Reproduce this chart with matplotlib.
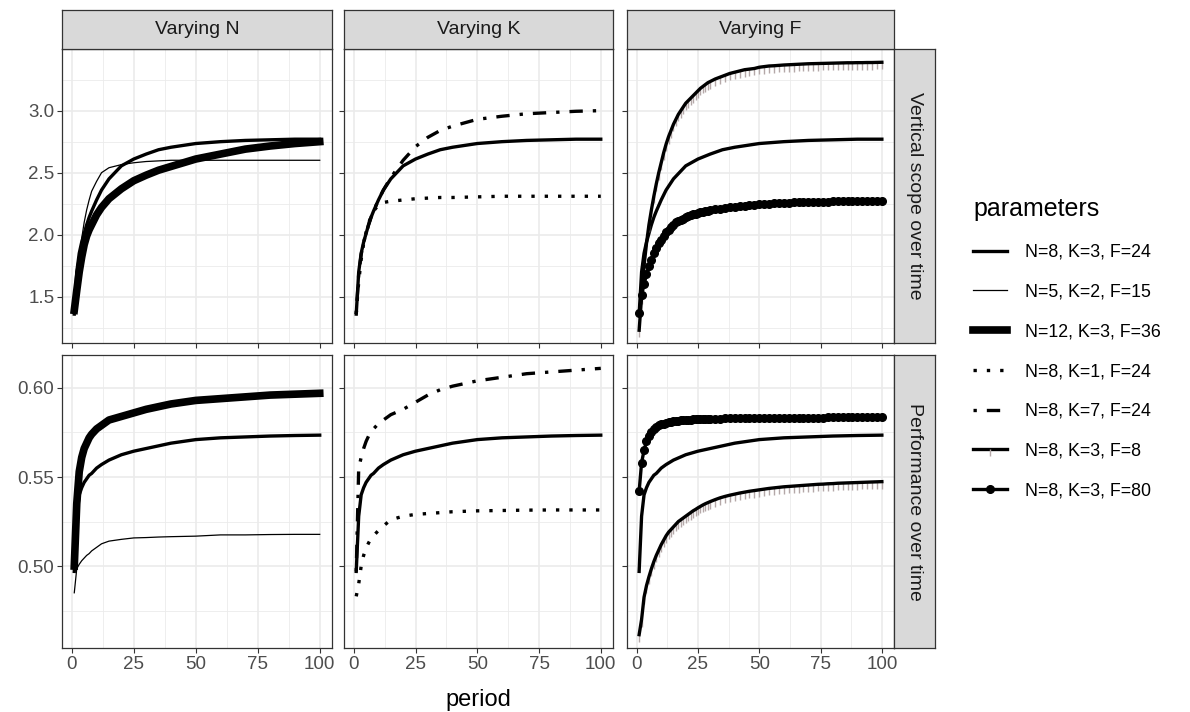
import matplotlib.pyplot as plt
from matplotlib.lines import Line2D

plt.rcParams['font.family'] = ['Liberation Sans', 'DejaVu Sans']

# ---- data ----
periods = [1, 2, 3, 4, 5, 6, 7, 8, 10, 12, 15, 20, 25, 30, 35, 40, 50, 60, 70, 80, 90, 100]
periods_fine = list(range(1, 31)) + list(range(32, 101, 2))

scope_base = [1.36, 1.70, 1.85, 1.94, 2.01, 2.08, 2.14, 2.19, 2.28, 2.36, 2.45, 2.555, 2.61, 2.65,
              2.685, 2.705, 2.735, 2.75, 2.76, 2.765, 2.77, 2.77]
scope_n5 = [1.40, 1.60, 1.80, 1.97, 2.10, 2.20, 2.28, 2.35, 2.43, 2.50, 2.54, 2.565, 2.58, 2.59,
            2.595, 2.60, 2.60, 2.60, 2.60, 2.60, 2.60, 2.60]
scope_n12 = [1.39, 1.55, 1.70, 1.82, 1.92, 1.99, 2.04, 2.08, 2.16, 2.22, 2.29, 2.37, 2.435, 2.48,
             2.52, 2.55, 2.61, 2.65, 2.69, 2.715, 2.735, 2.75]
scope_k1 = [1.36, 1.62, 1.80, 1.93, 2.02, 2.09, 2.15, 2.19, 2.24, 2.26, 2.27, 2.28, 2.29, 2.295,
            2.30, 2.30, 2.305, 2.31, 2.31, 2.31, 2.31, 2.31]
scope_k7 = [1.36, 1.68, 1.84, 1.94, 2.01, 2.08, 2.14, 2.19, 2.28, 2.36, 2.46, 2.60, 2.71, 2.785,
            2.84, 2.875, 2.93, 2.955, 2.975, 2.985, 2.995, 3.0]
scope_f8 = [1.23, 1.50, 1.75, 1.93, 2.08, 2.20, 2.31, 2.41, 2.50, 2.58,
            2.66, 2.73, 2.79, 2.84, 2.89, 2.93, 2.97, 3.00, 3.03, 3.06,
            3.08, 3.10, 3.12, 3.14, 3.16, 3.18, 3.195, 3.21, 3.225, 3.235,
            3.255, 3.27, 3.285, 3.30, 3.31, 3.32, 3.33, 3.335, 3.34, 3.35,
            3.355, 3.36, 3.362, 3.365, 3.368, 3.37, 3.372, 3.374, 3.376, 3.378,
            3.379, 3.38, 3.381, 3.382, 3.383, 3.384, 3.385, 3.386, 3.386, 3.387,
            3.387, 3.388, 3.388, 3.389, 3.39]
scope_f80 = [1.365, 1.51, 1.60, 1.68, 1.75, 1.80, 1.85, 1.89, 1.93, 1.96,
             1.99, 2.02, 2.04, 2.06, 2.08, 2.10, 2.11, 2.12, 2.13, 2.14,
             2.15, 2.16, 2.165, 2.17, 2.175, 2.18, 2.185, 2.19, 2.195, 2.20,
             2.205, 2.21, 2.215, 2.22, 2.225, 2.23, 2.235, 2.24, 2.243, 2.246,
             2.248, 2.25, 2.252, 2.254, 2.256, 2.258, 2.26, 2.261, 2.262, 2.263,
             2.264, 2.265, 2.266, 2.267, 2.268, 2.269, 2.27, 2.27, 2.271, 2.272,
             2.272, 2.273, 2.273, 2.274, 2.275]

perf_base = [0.497, 0.528, 0.540, 0.544, 0.547, 0.549, 0.551, 0.552, 0.555, 0.557, 0.5595, 0.5625,
             0.5645, 0.566, 0.5675, 0.569, 0.571, 0.572, 0.5725, 0.573, 0.5733, 0.5735]
perf_n5 = [0.485, 0.4985, 0.501, 0.503, 0.5045, 0.506, 0.507, 0.5085, 0.5105, 0.5125, 0.514, 0.515,
           0.5158, 0.516, 0.5163, 0.5165, 0.5168, 0.5175, 0.5175, 0.5177, 0.5178, 0.5178]
perf_n12 = [0.500, 0.535, 0.553, 0.561, 0.566, 0.569, 0.572, 0.574, 0.577, 0.579, 0.582, 0.584,
            0.586, 0.588, 0.5895, 0.591, 0.593, 0.594, 0.595, 0.596, 0.5965, 0.597]
perf_k1 = [0.483, 0.490, 0.500, 0.506, 0.510, 0.513, 0.5155, 0.517, 0.520, 0.5225, 0.526, 0.528,
           0.529, 0.5295, 0.530, 0.5305, 0.531, 0.5312, 0.5314, 0.5315, 0.5315, 0.5315]
perf_k7 = [0.497, 0.555, 0.561, 0.566, 0.570, 0.573, 0.575, 0.577, 0.580, 0.582, 0.585, 0.588,
           0.592, 0.596, 0.599, 0.601, 0.604, 0.606, 0.608, 0.609, 0.610, 0.611]
perf_f8 = [0.4615, 0.470, 0.4825, 0.489, 0.494, 0.4985, 0.5025, 0.506, 0.509, 0.512,
           0.5145, 0.517, 0.519, 0.5205, 0.522, 0.5235, 0.525, 0.526, 0.527, 0.528,
           0.529, 0.530, 0.531, 0.5318, 0.5327, 0.5335, 0.5343, 0.535, 0.5356, 0.5362,
           0.5373, 0.5383, 0.5391, 0.5398, 0.5404, 0.541, 0.5415, 0.542, 0.5424, 0.5428,
           0.5432, 0.5436, 0.5439, 0.5442, 0.5445, 0.5447, 0.5449, 0.5451, 0.5453, 0.5455,
           0.5457, 0.5459, 0.546, 0.5462, 0.5463, 0.5465, 0.5466, 0.5467, 0.5468, 0.5469,
           0.547, 0.5471, 0.5472, 0.5473, 0.5474]
perf_f80 = [0.542, 0.558, 0.565, 0.570, 0.573, 0.5755, 0.577, 0.578, 0.579, 0.5795,
            0.580, 0.5803, 0.5807, 0.581, 0.5813, 0.5815, 0.5817, 0.5818, 0.5819, 0.582,
            0.5821, 0.5822, 0.5823, 0.5824, 0.5825, 0.5825, 0.5826, 0.5826, 0.5827, 0.5827,
            0.5828, 0.5828, 0.5829, 0.5829, 0.583, 0.583, 0.583, 0.5831, 0.5831, 0.5831,
            0.5832, 0.5832, 0.5832, 0.5833, 0.5833, 0.5833, 0.5833, 0.5834, 0.5834, 0.5834,
            0.5834, 0.5834, 0.5834, 0.5835, 0.5835, 0.5835, 0.5835, 0.5835, 0.5835, 0.5835,
            0.5835, 0.5835, 0.5835, 0.5835, 0.5835]

labels = ['N=8, K=3, F=24', 'N=5, K=2, F=15', 'N=12, K=3, F=36', 'N=8, K=1, F=24',
          'N=8, K=7, F=24', 'N=8, K=3, F=8', 'N=8, K=3, F=80']
col_titles = ['Varying N', 'Varying K', 'Varying F']
row_titles = ['Vertical scope over time', 'Performance over time']

series = {
    0: {labels[0]: (periods, scope_base), labels[1]: (periods, scope_n5), labels[2]: (periods, scope_n12),
        labels[3]: (periods, scope_k1), labels[4]: (periods, scope_k7),
        labels[5]: (periods_fine, scope_f8), labels[6]: (periods_fine, scope_f80)},
    1: {labels[0]: (periods, perf_base), labels[1]: (periods, perf_n5), labels[2]: (periods, perf_n12),
        labels[3]: (periods, perf_k1), labels[4]: (periods, perf_k7),
        labels[5]: (periods_fine, perf_f8), labels[6]: (periods_fine, perf_f80)},
}
panel_series = [[labels[0], labels[1], labels[2]],
                [labels[0], labels[3], labels[4]],
                [labels[0], labels[5], labels[6]]]

# ---- styles ----
styles = {
    labels[0]: dict(color='black', lw=2.4),
    labels[1]: dict(color='black', lw=0.9),
    labels[2]: dict(color='black', lw=5.5),
    labels[3]: dict(color='black', lw=2.4, dashes=(1, 3), dash_capstyle='butt'),
    labels[4]: dict(color='black', lw=2.4, dashes=(1, 3, 4, 3), dash_capstyle='butt'),
    labels[5]: dict(color='black', lw=2.4),
    labels[6]: dict(color='black', lw=2.4, marker='o', ms=5.5),
}
tick_marker = dict(linestyle='none', marker=3, ms=5, mec='#b4a8a8', mew=1.0)

W, H = 1190, 712
fig = plt.figure(figsize=(W / 100, H / 100), dpi=100)


def box(x0, y0, x1, y1):
    return [x0 / W, 1 - y1 / H, (x1 - x0) / W, (y1 - y0) / H]


col_x = [(62, 332), (344, 613), (627, 894)]
row_y = [(49, 343), (355, 648)]
ylims = [(1.127, 3.497), (0.454, 0.6185)]
yticks = [[1.5, 2.0, 2.5, 3.0], [0.50, 0.55, 0.60]]
yminor = [[1.25, 1.75, 2.25, 2.75, 3.25], [0.475, 0.525, 0.575]]
ylabels = [['1.5', '2.0', '2.5', '3.0'], ['0.50', '0.55', '0.60']]
border = '#333333'

for r in range(2):
    for c in range(3):
        x0, x1 = col_x[c]
        y0, y1 = row_y[r]
        ax = fig.add_axes(box(x0, y0, x1, y1))
        for lab in panel_series[c]:
            p, v = series[r][lab]
            if lab == labels[5]:
                ax.plot(p, v, **tick_marker)
            ax.plot(p, v, **styles[lab])
        ax.set_xlim(-3.95, 104.95)
        ax.set_ylim(*ylims[r])
        ax.set_xticks([0, 25, 50, 75, 100])
        ax.set_xticks([12.5, 37.5, 62.5, 87.5], minor=True)
        ax.set_yticks(yticks[r])
        ax.set_yticks(yminor[r], minor=True)
        ax.grid(which='major', color='#EBEBEB', lw=1.2)
        ax.grid(which='minor', color='#EBEBEB', lw=0.6)
        ax.set_axisbelow(True)
        ax.tick_params(which='major', length=3.5, width=0.8, color=border,
                       labelsize=13.5, labelcolor='#4D4D4D', pad=2)
        ax.tick_params(which='minor', length=0)
        for s in ax.spines.values():
            s.set_color(border)
            s.set_linewidth(0.9)
        if c == 0:
            ax.set_yticklabels(ylabels[r])
        else:
            ax.set_yticklabels([])
        if r == 1:
            ax.set_xticklabels(['0', '25', '50', '75', '100'])
        else:
            ax.tick_params(axis='x', labelbottom=False)

# strips
for c in range(3):
    x0, x1 = col_x[c]
    sx = fig.add_axes(box(x0, 10, x1, 49))
    sx.set_facecolor('#D9D9D9')
    sx.set_xticks([])
    sx.set_yticks([])
    for s in sx.spines.values():
        s.set_color(border)
        s.set_linewidth(0.9)
    sx.text(0.5, 0.5, col_titles[c], ha='center', va='center', fontsize=14,
            color='#1A1A1A', transform=sx.transAxes)

for r in range(2):
    y0, y1 = row_y[r]
    sy = fig.add_axes(box(894, y0, 935, y1))
    sy.set_facecolor('#D9D9D9')
    sy.set_xticks([])
    sy.set_yticks([])
    for s in sy.spines.values():
        s.set_color(border)
        s.set_linewidth(0.9)
    sy.text(0.5, 0.5, row_titles[r], ha='center', va='center', fontsize=14,
            color='#1A1A1A', rotation=-90, transform=sy.transAxes)

fig.text(478 / W, 1 - 700 / H, 'period', ha='center', va='center', fontsize=17, color='black')

handles = []
for lab in labels:
    st = dict(styles[lab])
    if lab == labels[5]:
        st.update(marker=3, ms=5, mec='#b4a8a8', mew=1.0)
    handles.append(Line2D([], [], **st))
leg = fig.legend(handles, labels, loc='upper left', bbox_to_anchor=(966 / W, 1 - 190 / H),
                 frameon=False, title='parameters', title_fontsize=18, fontsize=12.8,
                 handlelength=1.9, handletextpad=1.0, labelspacing=1.28, numpoints=1,
                 alignment='left', borderaxespad=0)

fig.savefig('out.png', dpi=100, facecolor='white')
